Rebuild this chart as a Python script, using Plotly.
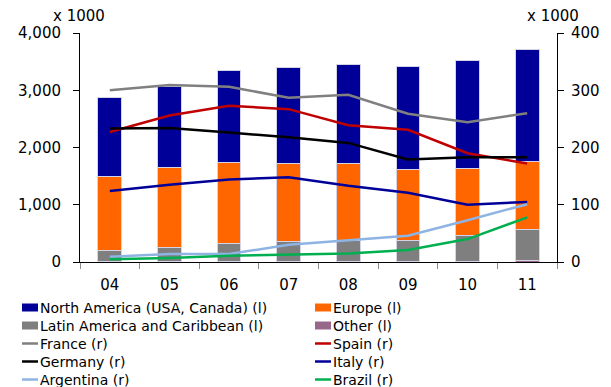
import plotly.graph_objects as go

years = ["04", "05", "06", "07", "08", "09", "10", "11"]

# Left axis (x 1000), stacked bars
other = [5, 5, 5, 5, 5, 5, 5, 30]
latin_america = [200, 252, 310, 345, 363, 369, 450, 543]
europe = [1283, 1395, 1425, 1378, 1354, 1249, 1179, 1178]
north_america = [1384, 1418, 1600, 1670, 1728, 1787, 1886, 1956]

# Right axis (x 1000), lines
france = [300, 309, 306, 287, 292, 259, 244, 260]
spain = [227, 256, 273, 267, 239, 231, 190, 172]
germany = [233, 234, 226, 218, 208, 179, 183, 183]
italy = [124, 135, 144, 148, 133, 121, 100, 105]
argentina = [9, 14, 14, 30, 38, 46, 73, 101]
brazil = [5, 7, 11, 13, 15, 21, 40, 78]

left_ticks = [0, 1000, 2000, 3000, 4000]
right_ticks = [0, 100, 200, 300, 400]

FONT = "DejaVu Sans"
W, H = 611, 387
L, R, T, B = 80, 54, 33, 125

bars = [
    ("Other (l)", other, "#98688A"),
    ("Latin America and Caribbean (l)", latin_america, "#7F7F7F"),
    ("Europe (l)", europe, "#FF6600"),
    ("North America (USA, Canada) (l)", north_america, "#000099"),
]
lines = [
    ("France (r)", france, "#808080"),
    ("Spain (r)", spain, "#C00000"),
    ("Germany (r)", germany, "#000000"),
    ("Italy (r)", italy, "#000099"),
    ("Argentina (r)", argentina, "#8EB4E3"),
    ("Brazil (r)", brazil, "#00B050"),
]

fig = go.Figure()
for name, vals, col in bars:
    fig.add_trace(go.Bar(x=years, y=vals, name=name, marker_color=col,
                         marker_line=dict(color="#D4D4E6", width=1),
                         width=0.4, showlegend=False))
for name, vals, col in lines:
    fig.add_trace(go.Scatter(x=years, y=vals, name=name, mode="lines",
                             line=dict(color=col, width=2.5),
                             yaxis="y2", showlegend=False))

TICKFONT = dict(size=15, family=FONT, color="#000000")

fig.update_layout(
    width=W, height=H,
    margin=dict(l=L, r=R, t=T, b=B, pad=0),
    barmode="stack", bargap=0.6,
    plot_bgcolor="white", paper_bgcolor="white",
    font=dict(family=FONT, size=14, color="#000000"),
    xaxis=dict(type="category", showline=True, linecolor="black", linewidth=1,
               ticks="outside", tickson="boundaries", ticklen=6, tickcolor="#8C8C8C",
               ticklabelstandoff=9, showgrid=False, zeroline=False,
               tickfont=TICKFONT),
    yaxis=dict(range=[0, 4000], tickvals=left_ticks, tickformat=",d",
               showline=True, linecolor="black", linewidth=1,
               ticks="outside", ticklen=6, tickcolor="black",
               ticklabelstandoff=9, showgrid=False, zeroline=False,
               tickfont=TICKFONT),
    yaxis2=dict(range=[0, 400], tickvals=right_ticks, overlaying="y", side="right",
                showline=True, linecolor="black", linewidth=1,
                ticks="outside", ticklen=6, tickcolor="black",
                ticklabelstandoff=4, showgrid=False, zeroline=False,
                tickfont=TICKFONT),
)

pw, ph = W - L - R, H - T - B


def px_x(x):
    return (x - L) / pw


def px_y(y):
    return (H - B - y) / ph


ann = [
    dict(text="x 1000", x=px_x(79), y=px_y(16)),
    dict(text="x 1000", x=px_x(553), y=px_y(16)),
]
for a in ann:
    fig.add_annotation(xref="paper", yref="paper", showarrow=False,
                       xanchor="center", yanchor="middle",
                       font=dict(size=15, family=FONT), **a)

# manual legend (two columns)
legend_items = [
    ("North America (USA, Canada) (l)", "#000099", "box"),
    ("Europe (l)", "#FF6600", "box"),
    ("Latin America and Caribbean (l)", "#7F7F7F", "box"),
    ("Other (l)", "#98688A", "box"),
    ("France (r)", "#808080", "line"),
    ("Spain (r)", "#C00000", "line"),
    ("Germany (r)", "#000000", "line"),
    ("Italy (r)", "#000099", "line"),
    ("Argentina (r)", "#8EB4E3", "line"),
    ("Brazil (r)", "#00B050", "line"),
]
col_x = [22, 315]
row_y = [307.5, 325.5, 343.5, 361.5, 379.5]
for i, (name, col, kind) in enumerate(legend_items):
    cx = col_x[i % 2]
    cy = row_y[i // 2]
    if kind == "box":
        fig.add_shape(type="rect", xref="paper", yref="paper",
                      x0=px_x(cx), x1=px_x(cx + 16), y0=px_y(cy - 4), y1=px_y(cy + 4),
                      fillcolor=col, line=dict(width=0))
    else:
        fig.add_shape(type="line", xref="paper", yref="paper",
                      x0=px_x(cx), x1=px_x(cx + 16), y0=px_y(cy), y1=px_y(cy),
                      line=dict(color=col, width=2.5))
    fig.add_annotation(xref="paper", yref="paper", showarrow=False,
                       x=px_x(cx + 17), y=px_y(cy), xanchor="left", yanchor="middle",
                       text=name, font=dict(size=14, family=FONT, color="#000000"),
                       borderpad=0)

fig.write_html("out.html")
